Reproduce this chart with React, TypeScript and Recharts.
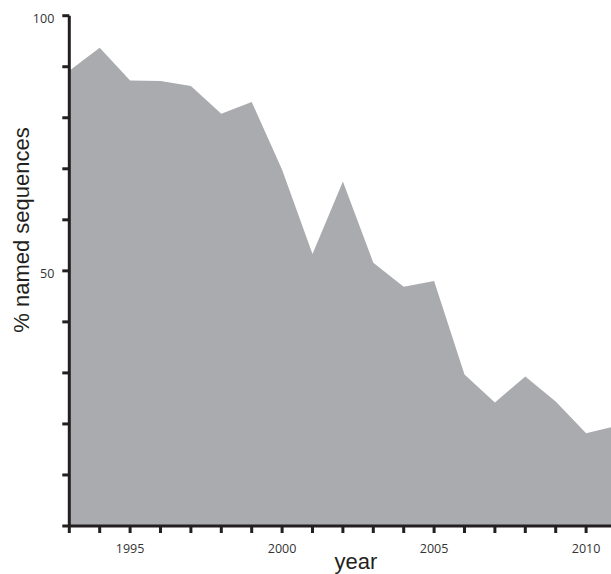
import { Area, AreaChart, XAxis, YAxis } from "recharts";

const years = [
  1993, 1994, 1995, 1996, 1997, 1998, 1999, 2000, 2001, 2002, 2003, 2004, 2005, 2006, 2007,
  2008, 2009, 2010, 2011,
];
const namedPct = [
  89.2, 93.7, 87.3, 87.2, 86.2, 80.8, 83.1, 69.8, 53.3, 67.5, 51.6, 46.9, 48.0, 29.7, 24.2,
  29.3, 24.4, 18.2, 19.6,
];
const xLabelYears = [1995, 2000, 2005, 2010];
const yTicks = [0, 10, 20, 30, 40, 50, 60, 70, 80, 90, 100];
const yLabelValues = [50, 100];

const data = years.map((year, i) => ({ year, pct: namedPct[i] }));

const INK = "#231f20";
const TICK_FONT = "'Open Sans', sans-serif";
const TITLE_FONT = "'Liberation Sans', Arial, sans-serif";

function YTitle() {
  return (
    <text
      x={29}
      y={230}
      transform="rotate(-90, 29, 230)"
      textAnchor="middle"
      fontFamily={TITLE_FONT}
      fontSize={22}
      fill={INK}
    >
      % named sequences
    </text>
  );
}

function XTitle() {
  // the reference crops the descender; keep it just inside the frame
  return (
    <text x={356} y={569} textAnchor="middle" fontFamily={TITLE_FONT} fontSize={22} fill={INK}>
      year
    </text>
  );
}

export default function App() {
  return (
    <div
      style={{
        position: "absolute",
        left: 0,
        top: 0,
        width: 611,
        height: 574,
        overflow: "hidden",
        background: "#fff",
      }}
    >
      <AreaChart
        width={640}
        height={574}
        data={data}
        margin={{ top: 15.7, right: 23.5, left: 0, bottom: 0 }}
      >
        <XAxis
          dataKey="year"
          type="number"
          domain={[1993, 2011]}
          ticks={years}
          interval={0}
          height={48}
          stroke={INK}
          strokeWidth={3}
          tickSize={7}
          tickMargin={11}
          tick={{ fill: "#333", fontSize: 12.5, fontFamily: TICK_FONT }}
          tickFormatter={(v: number) => (xLabelYears.includes(v) ? String(v) : "")}
          label={{ content: () => <XTitle /> }}
        />
        <YAxis
          type="number"
          domain={[0, 100]}
          ticks={yTicks}
          interval={0}
          width={69.3}
          stroke={INK}
          strokeWidth={3}
          tickSize={7}
          tickMargin={8}
          tick={{ fill: "#333", fontSize: 12.5, fontFamily: TICK_FONT, dy: 3 }}
          tickFormatter={(v: number) => (yLabelValues.includes(v) ? String(v) : "")}
          label={{ content: () => <YTitle /> }}
        />
        <Area
          type="linear"
          dataKey="pct"
          stroke="none"
          fill="#aaabae"
          fillOpacity={1}
          baseValue={0}
          isAnimationActive={false}
        />
      </AreaChart>
    </div>
  );
}
